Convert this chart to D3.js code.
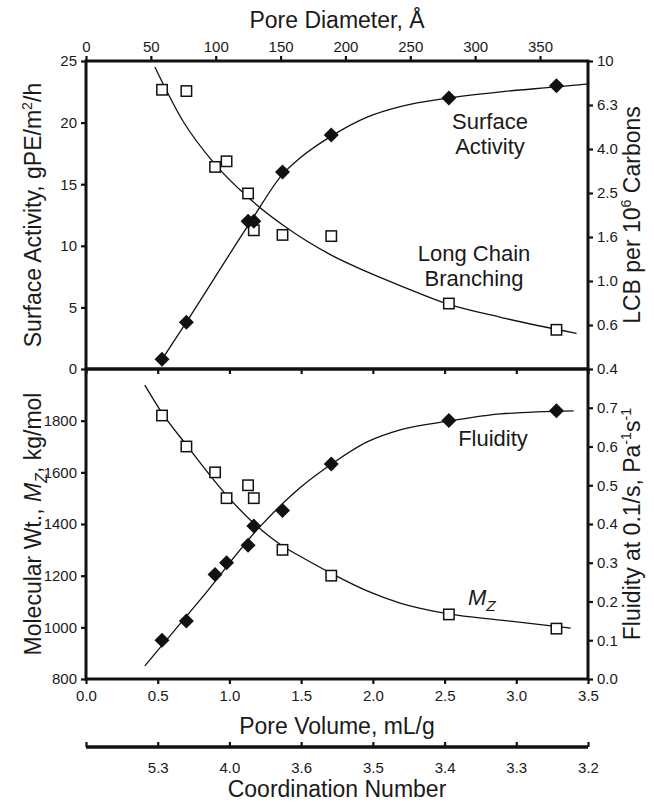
<!DOCTYPE html>
<html>
<head>
<meta charset="utf-8">
<script src="https://cdn.jsdelivr.net/npm/d3@7"></script>
<style>
  body { margin: 0; background: #fff; }
  text { font-family: "Liberation Sans", Arial, Helvetica, sans-serif; fill: #1a1a1a; }
</style>
</head>
<body>
<svg id="chart" width="654" height="804"></svg>
<script>
// ---- measured samples ----
const poreVolume   = [0.53, 0.70, 0.90, 0.98, 1.13, 1.17, 1.37, 1.71, 2.53, 3.28];
const lcb          = [7.4, 7.3, 3.3, 3.5, 2.5, 1.7, 1.62, 1.6, 0.79, 0.60];
const mz           = [1820, 1700, 1600, 1500, 1550, 1500, 1300, 1200, 1050, 995];
const fluidity     = [0.10, 0.15, 0.27, 0.30, 0.345, 0.395, 0.435, 0.555, 0.667, 0.692];

const saVolume        = [0.53, 0.70, 1.13, 1.17, 1.37, 1.71, 2.53, 3.28];
const surfaceActivity = [0.8, 3.8, 12.0, 12.0, 16.0, 19.0, 22.0, 23.0];

// ---- fitted trend curves ----
const saFitVolume  = [0.52, 0.70, 1.15, 1.37, 1.49, 1.71, 1.96, 2.19, 2.53, 2.89, 3.28, 3.51];
const saFit        = [0.6, 3.8, 12.0, 15.8, 17.1, 18.9, 20.45, 21.3, 22.0, 22.5, 22.9, 23.15];

const lcbFitVolume = [0.48, 0.68, 0.89, 1.13, 1.37, 1.72, 1.96, 2.19, 2.52, 2.89, 3.42];
const lcbFit       = [9.4, 5.28, 3.45, 2.40, 1.80, 1.30, 1.10, 0.953, 0.787, 0.684, 0.578];

const mzFitVolume  = [0.41, 0.53, 0.70, 0.99, 1.16, 1.37, 1.49, 1.72, 1.96, 2.19, 2.53, 2.89, 3.38];
const mzFit        = [1938, 1830, 1706, 1505, 1408, 1315, 1276, 1206, 1141, 1094, 1052, 1028, 997];

const flFitVolume  = [0.41, 0.80, 1.21, 1.49, 1.72, 1.96, 2.19, 2.54, 2.89, 3.40];
const flFit        = [0.034, 0.206, 0.392, 0.493, 0.557, 0.612, 0.643, 0.666, 0.684, 0.692];

// ---- axis ticks ----
const volumeTicks      = [0, 0.5, 1.0, 1.5, 2.0, 2.5, 3.0, 3.5];
const diameterTicks    = [0, 50, 100, 150, 200, 250, 300, 350];
const saTicks          = [0, 5, 10, 15, 20, 25];
const lcbTicks         = [-0.4, -0.2, 0, 0.2, 0.4, 0.6, 0.8, 1.0].map(e => Math.pow(10, e));
const lcbTickLabels    = ["0.4", "0.6", "1.0", "1.6", "2.5", "4.0", "6.3", "10"];
const mzTicks          = [800, 1000, 1200, 1400, 1600, 1800];
const flTicks          = [0, 0.1, 0.2, 0.3, 0.4, 0.5, 0.6, 0.7];
const coordinationLabels = ["", "5.3", "4.0", "3.6", "3.5", "3.4", "3.3", "3.2"];

// ---- layout ----
const L = 86, R = 588, T = 61, MID = 369, B = 679, COORD = 747;
const svg = d3.select("#chart");

const x     = d3.scaleLinear().domain([0, 3.5]).range([L, R]);
const xDiam = d3.scaleLinear().domain([0, 387]).range([L, R]);
const ySA   = d3.scaleLinear().domain([0, 25]).range([MID, T]);
const yLCB  = d3.scaleLog().domain([Math.pow(10, -0.4), 10]).range([MID, T]);
const yMz   = d3.scaleLinear().domain([800, 2000]).range([B, MID]);
const yFl   = d3.scaleLinear().domain([0, 0.8]).range([B, MID]);

const TICK_FONT = 15;
function styleAxis(g) {
  g.select(".domain").remove();
  g.attr("font-family", null).attr("font-size", null);
  g.selectAll(".tick line").attr("stroke", "#111").attr("stroke-width", 2.2);
  g.selectAll(".tick text").attr("font-size", TICK_FONT).attr("fill", "#1a1a1a");
}

// top axis: pore diameter
svg.append("g").attr("transform", `translate(0,${T})`)
  .call(d3.axisTop(xDiam).tickValues(diameterTicks).tickSize(5).tickPadding(4).tickFormat(d3.format("d")))
  .call(styleAxis);

// top panel left / right
svg.append("g").attr("transform", `translate(${L},0)`)
  .call(d3.axisLeft(ySA).tickValues(saTicks).tickSize(5).tickPadding(4))
  .call(styleAxis);
svg.append("g").attr("transform", `translate(${R},0)`)
  .call(d3.axisRight(yLCB).tickValues(lcbTicks).tickSize(5).tickPadding(4)
        .tickFormat((d, i) => lcbTickLabels[i]))
  .call(styleAxis);
// top panel lower edge ticks
svg.append("g").attr("transform", `translate(0,${MID})`)
  .call(d3.axisBottom(x).tickValues(volumeTicks).tickSize(5).tickFormat(""))
  .call(styleAxis);

// bottom panel left / right
svg.append("g").attr("transform", `translate(${L},0)`)
  .call(d3.axisLeft(yMz).tickValues(mzTicks).tickSize(5).tickPadding(4).tickFormat(d3.format("d")))
  .call(styleAxis);
svg.append("g").attr("transform", `translate(${R},0)`)
  .call(d3.axisRight(yFl).tickValues(flTicks).tickSize(5).tickPadding(4).tickFormat(d3.format(".1f")))
  .call(styleAxis);
// bottom axis: pore volume
svg.append("g").attr("transform", `translate(0,${B})`)
  .call(d3.axisBottom(x).tickValues(volumeTicks).tickSize(5).tickPadding(6).tickFormat(d3.format(".1f")))
  .call(styleAxis);

// coordination number axis
const coordAxis = svg.append("g").attr("transform", `translate(0,${COORD})`)
  .call(d3.axisBottom(x).tickValues(volumeTicks).tickSizeInner(-5).tickSizeOuter(0).tickPadding(9)
        .tickFormat((d, i) => coordinationLabels[i]))
  .call(styleAxis);
coordAxis.selectAll(".tick text").attr("dy", "1.1em");
coordAxis.append("line").attr("x1", L).attr("x2", R).attr("stroke", "#111").attr("stroke-width", 3.5);

// panel frames
[[T, MID], [MID, B]].forEach(([y0, y1]) => {
  svg.append("rect").attr("x", L).attr("y", y0).attr("width", R - L).attr("height", y1 - y0)
    .attr("fill", "none").attr("stroke", "#111").attr("stroke-width", 3);
});

// ---- curves ----
const curve = d3.curveMonotoneX;
function drawFit(xs, ys, yScale) {
  const pts = xs.map((v, i) => [x(v), yScale(ys[i])]);
  svg.append("path").attr("d", d3.line().curve(curve)(pts))
    .attr("fill", "none").attr("stroke", "#111").attr("stroke-width", 1.3);
}
drawFit(saFitVolume, saFit, ySA);
drawFit(lcbFitVolume, lcbFit, yLCB);
drawFit(mzFitVolume, mzFit, yMz);
drawFit(flFitVolume, flFit, yFl);

// ---- markers ----
const DIAMOND = 7.5, SQUARE = 5.2;
function diamonds(xs, ys, yScale) {
  svg.append("g").selectAll("path").data(xs).join("path")
    .attr("transform", (v, i) => `translate(${x(v)},${yScale(ys[i])})`)
    .attr("d", `M0,${-DIAMOND}L${DIAMOND},0L0,${DIAMOND}L${-DIAMOND},0Z`)
    .attr("fill", "#111");
}
function squares(xs, ys, yScale) {
  svg.append("g").selectAll("rect").data(xs).join("rect")
    .attr("x", v => x(v) - SQUARE)
    .attr("y", (v, i) => yScale(ys[i]) - SQUARE)
    .attr("width", 2 * SQUARE).attr("height", 2 * SQUARE)
    .attr("fill", "#fff").attr("stroke", "#111").attr("stroke-width", 1.5);
}
squares(poreVolume, lcb, yLCB);
diamonds(saVolume, surfaceActivity, ySA);
squares(poreVolume, mz, yMz);
diamonds(poreVolume, fluidity, yFl);

// ---- text ----
const TITLE = 23, NOTE = 22;
function rich(sel, parts, size) {
  parts.forEach(p => {
    const t = sel.append("tspan").text(p.t);
    if (p.italic) t.attr("font-style", "italic");
    if (p.sup) t.attr("font-size", size * 0.62).attr("dy", -size * 0.38);
    if (p.sub) t.attr("font-size", size * 0.7).attr("dy", size * 0.25);
    if (p.back) t.attr("dy", p.back);
  });
}

svg.append("text").attr("x", (L + R) / 2).attr("y", 28).attr("text-anchor", "middle")
  .attr("font-size", TITLE).text("Pore Diameter, Å");
svg.append("text").attr("x", (L + R) / 2).attr("y", 734).attr("text-anchor", "middle")
  .attr("font-size", TITLE).text("Pore Volume, mL/g");
svg.append("text").attr("x", (L + R) / 2).attr("y", 797).attr("text-anchor", "middle")
  .attr("font-size", TITLE).text("Coordination Number");

function vtitle(cx, cy, parts) {
  const t = svg.append("text").attr("transform", `translate(${cx},${cy}) rotate(-90)`)
    .attr("text-anchor", "middle").attr("font-size", TITLE);
  rich(t, parts, TITLE);
}
vtitle(41, (T + MID) / 2, [{ t: "Surface Activity, gPE/m" }, { t: "2", sup: true }, { t: "/h", back: TITLE * 0.38 }]);
vtitle(41, (MID + B) / 2, [{ t: "Molecular Wt., " }, { t: "M", italic: true }, { t: "Z", italic: true, sub: true },
                          { t: ", kg/mol", back: -TITLE * 0.25 }]);
vtitle(640, (T + MID) / 2, [{ t: "LCB per 10" }, { t: "6", sup: true }, { t: " Carbons", back: TITLE * 0.38 }]);
vtitle(640, (MID + B) / 2, [{ t: "Fluidity at 0.1/s, Pa" }, { t: "-1", sup: true }, { t: "s", back: TITLE * 0.38 },
                           { t: "-1", sup: true }]);

function note(cx, y, s) {
  svg.append("text").attr("x", cx).attr("y", y).attr("text-anchor", "middle")
    .attr("font-size", NOTE).text(s);
}
note(490, 129, "Surface");
note(490, 154, "Activity");
note(474, 261, "Long Chain");
note(474, 286, "Branching");
note(493, 446, "Fluidity");
const mzNote = svg.append("text").attr("x", 468).attr("y", 605).attr("font-size", NOTE);
rich(mzNote, [{ t: "M", italic: true }, { t: "Z", italic: true, sub: true }], NOTE);
</script>
</body>
</html>
